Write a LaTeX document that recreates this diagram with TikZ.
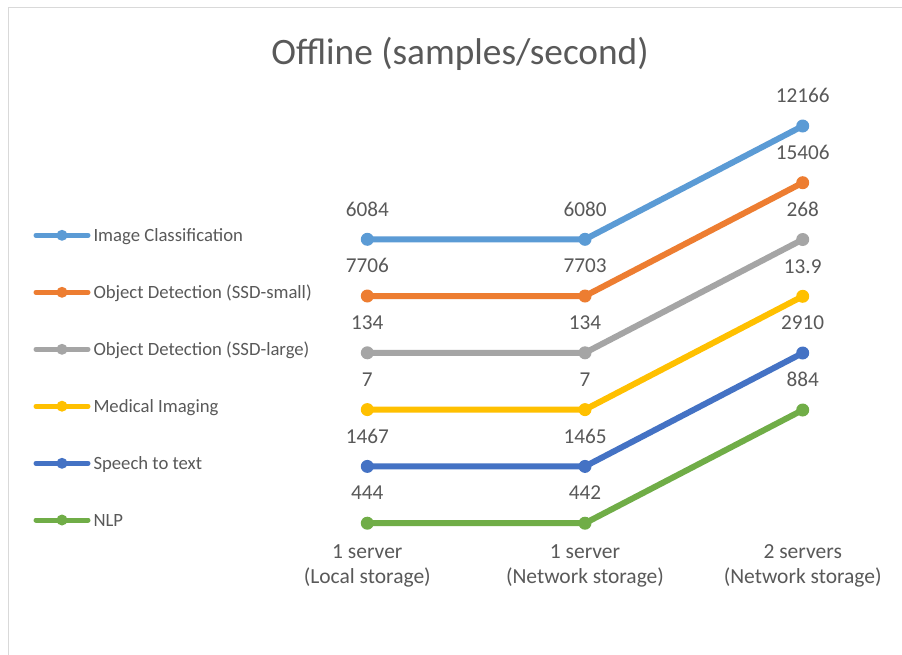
\documentclass[tikz,border=0pt]{standalone}
\usepackage{fontspec}
\setmainfont{Carlito}
\definecolor{txt}{HTML}{595959}
\definecolor{cIC}{HTML}{5B9BD5}
\definecolor{cODs}{HTML}{ED7D31}
\definecolor{cODl}{HTML}{A5A5A5}
\definecolor{cMI}{HTML}{FFC000}
\definecolor{cST}{HTML}{4472C4}
\definecolor{cNLP}{HTML}{70AD47}
\definecolor{frame}{HTML}{D9D9D9}
\begin{document}
\begin{tikzpicture}[x=1pt,y=-1pt,
  lbl/.style={inner sep=0pt,anchor=base,text=txt,font=\fontsize{21.2}{25}\selectfont},
  axl/.style={inner sep=0pt,anchor=base,text=txt,font=\fontsize{21.5}{25}\selectfont},
  leg/.style={inner sep=0pt,anchor=base west,text=txt,font=\fontsize{18.7}{22}\selectfont},
  serline/.style={line width=6pt,line join=round},
  legline/.style={line width=5pt,line cap=round},
  dot/.style={circle,inner sep=0pt,minimum size=13pt,fill=#1},
  ldot/.style={circle,inner sep=0pt,minimum size=11pt,fill=#1}]
\useasboundingbox (0,0) rectangle (902,654);
\fill[white] (0,0) rectangle (902,654);
\draw[frame,line width=1pt] (8,670) -- (8,7) -- (920,7);
\node[inner sep=0pt,anchor=base,text=txt,font=\fontsize{37.3}{44}\selectfont] (title) at (460,64.5) {Offline (samples/second)};
% series
\def\xa{367.3}\def\xb{585}\def\xc{802.7}
\foreach \n/\c/\ya/\yc/\la/\lb/\lc in {
  IC/cIC/239.3/126/6084/6080/12166,
  ODs/cODs/296/182.7/7706/7703/15406,
  ODl/cODl/352.8/239.5/134/134/268,
  MI/cMI/409.6/296.3/7/7/13.9,
  ST/cST/466.4/353/1467/1465/2910,
  NLP/cNLP/523.2/410/444/442/884}{
  \coordinate (\n a) at (\xa,\ya);
  \coordinate (\n b) at (\xb,\ya);
  \coordinate (\n c) at (\xc,\yc);
  \draw[serline,\c] (\n a) -- (\n b) -- (\n c);
  \node[dot=\c] (\n A) at (\n a) {};
  \node[dot=\c] (\n B) at (\n b) {};
  \node[dot=\c] (\n C) at (\n c) {};
  \node[lbl] (\n LA) at ([yshift=23.3pt]\n a) {\la};
  \node[lbl] (\n LB) at ([yshift=23.3pt]\n b) {\lb};
  \node[lbl] (\n LC) at ([yshift=23.3pt]\n c) {\lc};
}
% legend
\foreach \n/\c/\y/\t in {
  IC/cIC/235.3/Image Classification,
  ODs/cODs/292.3/Object Detection (SSD-small),
  ODl/cODl/349.3/Object Detection (SSD-large),
  MI/cMI/406.2/Medical Imaging,
  ST/cST/463.3/Speech to text,
  NLP/cNLP/520/NLP}{
  \coordinate (\n l1) at (36,\y);
  \coordinate (\n l2) at (88,\y);
  \draw[legline,\c] (\n l1) -- (\n l2);
  \node[ldot=\c] (\n ld) at (62,\y) {};
  \node[leg] (\n lt) at (93.3,\y+6.4) {\t};
}
% axis labels
\node[axl] (ax1a) at (\xa,558.3) {1 server};
\node[axl] (ax1b) at (\xa,583.5) {(Local storage)};
\node[axl] (ax2a) at (\xb,558.3) {1 server};
\node[axl] (ax2b) at (\xb,583.5) {(Network storage)};
\node[axl] (ax3a) at (\xc,558.3) {2 servers};
\node[axl] (ax3b) at (\xc,583.5) {(Network storage)};
\end{tikzpicture}
\end{document}
